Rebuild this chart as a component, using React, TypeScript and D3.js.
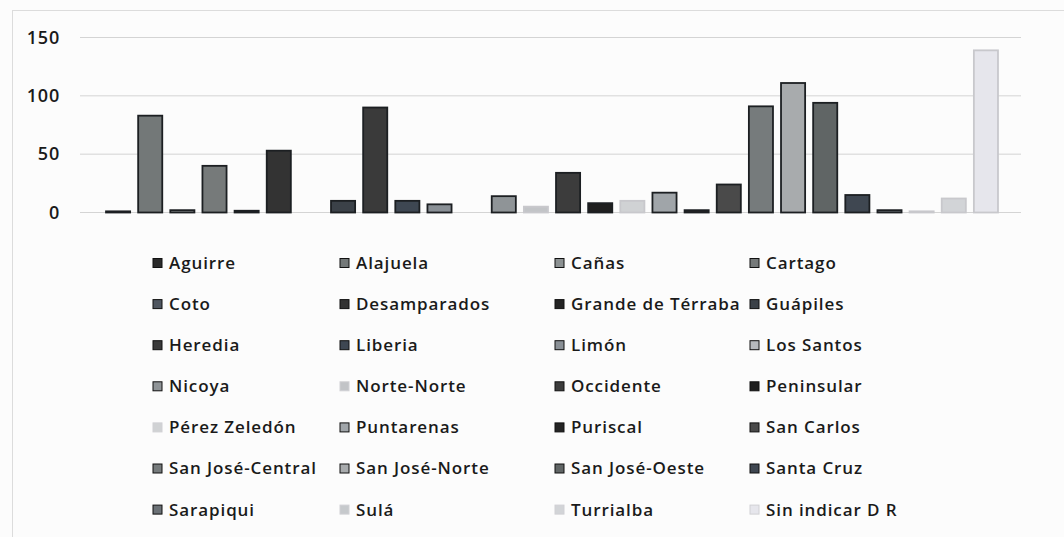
import React from "react";
import * as d3 from "d3";

const categories = [
  "Aguirre", "Alajuela", "Cañas", "Cartago",
  "Coto", "Desamparados", "Grande de Térraba", "Guápiles",
  "Heredia", "Liberia", "Limón", "Los Santos",
  "Nicoya", "Norte-Norte", "Occidente", "Peninsular",
  "Pérez Zeledón", "Puntarenas", "Puriscal", "San Carlos",
  "San José-Central", "San José-Norte", "San José-Oeste", "Santa Cruz",
  "Sarapiqui", "Sulá", "Turrialba", "Sin indicar D R",
];

const values = [
  1, 83, 2, 40,
  1.5, 53, 0, 10,
  90, 10, 7, 0,
  14, 5, 34, 8,
  10, 17, 2, 24,
  91, 111, 94, 15,
  2, 1, 12, 139,
];

const fills = [
  "#2b2b2b", "#737878", "#8c9192", "#767a7a",
  "#4f5660", "#333333", "#232323", "#3b4148",
  "#3a3a3a", "#3e4752", "#8a9096", "#b6b9bd",
  "#8f9497", "#c2c4c7", "#3c3c3c", "#1f1f1f",
  "#d0d2d4", "#a0a5a9", "#242424", "#4a4a4a",
  "#767b7c", "#a8abad", "#606565", "#3f4751",
  "#6b7176", "#c6c9cc", "#d2d4d7", "#e6e6ec",
];

const yTicks = [0, 50, 100, 150];

export default function App() {
  const width = 1064;
  const height = 537;
  const x = d3.scaleBand<string>().domain(categories).range([102, 1002]).paddingInner(0.25).paddingOuter(0.125);
  const y = d3.scaleLinear().domain([0, 150]).range([212.5, 37.5]);
  const gridX0 = 80;
  const gridX1 = 1021;

  const cols = [153, 340, 555, 750];
  const rowY0 = 263;
  const rowStep = 41.1;

  return (
    <svg width={width} height={height} style={{ position: "absolute", left: 0, top: 0 }}>
      <rect x={0} y={0} width={width} height={height} fill="#fcfcfc" />
      <rect x={12.5} y={10.5} width={1060} height={540} fill="none" stroke="#dcdcdc" strokeWidth={1} />
      {yTicks.map((t) => (
        <g key={t}>
          <line x1={gridX0} x2={gridX1} y1={y(t)} y2={y(t)} stroke="#d4d4d4" strokeWidth={1} />
          <text
            x={60}
            y={y(t)}
            dy="0.35em"
            textAnchor="end"
            fontFamily="Open Sans, sans-serif"
            fontWeight={600}
            fontSize={18}
            letterSpacing={0.8}
            fill="#1a1a1a"
          >
            {t}
          </text>
        </g>
      ))}
      {categories.map((c, i) => {
        const v = values[i];
        if (v <= 0) return null;
        const light = d3.hsl(fills[i]).l > 0.75;
        return (
          <rect
            key={c}
            x={x(c)!}
            y={y(v)}
            width={x.bandwidth()}
            height={y(0) - y(v)}
            fill={fills[i]}
            stroke={light ? "#c8c8cc" : "#1c1f22"}
            strokeWidth={1.8}
          />
        );
      })}
      {categories.map((c, i) => {
        const col = i % 4;
        const row = Math.floor(i / 4);
        const cy = rowY0 + row * rowStep;
        const light = d3.hsl(fills[i]).l > 0.75;
        return (
          <g key={"lg" + c}>
            <rect
              x={cols[col]}
              y={cy - 4.5}
              width={9}
              height={9}
              fill={fills[i]}
              stroke={light ? "#d0d0d4" : "#111"}
              strokeWidth={1}
            />
            <text
              x={cols[col] + 16}
              y={cy}
              dy="0.35em"
              fontFamily="Open Sans, sans-serif"
              fontWeight={600}
              fontSize={17}
              letterSpacing={0.9}
              fill="#1a1a1a"
            >
              {c}
            </text>
          </g>
        );
      })}
    </svg>
  );
}
